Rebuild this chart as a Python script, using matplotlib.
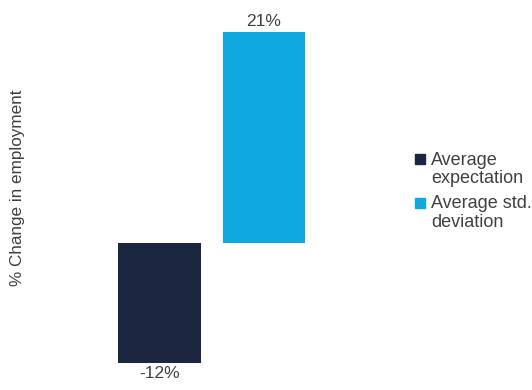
import matplotlib
matplotlib.use("Agg")
import matplotlib.pyplot as plt
from matplotlib.lines import Line2D
from matplotlib.legend_handler import HandlerLine2D

plt.rcParams['font.family'] = ['Liberation Sans', 'DejaVu Sans']

series = ["Average\nexpectation", "Average std.\ndeviation"]
values = [-12, 21]
labels = ["-12%", "21%"]
colors = ["#1b2640", "#10a8e0"]
text_color = "#404040"


class TopAlignedMarker(HandlerLine2D):
    """Place the legend marker beside the first line of a two-line label."""

    def __init__(self, shift, **kw):
        super().__init__(**kw)
        self.shift = shift

    def create_artists(self, legend, orig_handle, xdescent, ydescent,
                       width, height, fontsize, trans):
        artists = super().create_artists(legend, orig_handle, xdescent, ydescent,
                                         width, height, fontsize, trans)
        for a in artists:
            a.set_ydata([y + self.shift for y in a.get_ydata()])
        return artists


W, H = 532, 390
fig = plt.figure(figsize=(W / 100, H / 100), dpi=100)
ax = fig.add_axes([40 / W, 10 / H, 360 / W, 365 / H])

positions = list(range(len(values)))
bars = ax.bar(positions, values, width=0.79, color=colors)

for b, v, lab in zip(bars, values, labels):
    x = b.get_x() + b.get_width() / 2
    if v >= 0:
        ax.annotate(lab, (x, v), xytext=(0, 2), textcoords="offset points",
                    ha="center", va="bottom", fontsize=12.5, color=text_color)
    else:
        ax.annotate(lab, (x, v), xytext=(0, -2), textcoords="offset points",
                    ha="center", va="top", fontsize=12.5, color=text_color)

ax.set_xlim(-1.14, 2.3)
ax.set_ylim(-13.7, 22.7)
for s in ax.spines.values():
    s.set_visible(False)
ax.set_xticks([])
ax.set_yticks([])

fig.text(18 / W, 1 - 188 / H, "% Change in employment", rotation=90,
         ha="center", va="center", fontsize=12.3, color=text_color)

handles = [Line2D([], [], marker="s", linestyle="none", markersize=7.2,
                  markerfacecolor=c, markeredgecolor=c) for c in colors]
fs = 13
leg = fig.legend(handles, series, loc="upper left",
                 bbox_to_anchor=(415 / W, 1 - 152 / H),
                 frameon=False, fontsize=fs, handlelength=0.6, handletextpad=0.3,
                 labelspacing=0.45, borderpad=0, borderaxespad=0,
                 labelcolor=text_color,
                 handler_map={Line2D: TopAlignedMarker(shift=fs * 0.58)})
for t in leg.get_texts():
    t.set_linespacing(1.1)

fig.savefig("out.png", dpi=100)
